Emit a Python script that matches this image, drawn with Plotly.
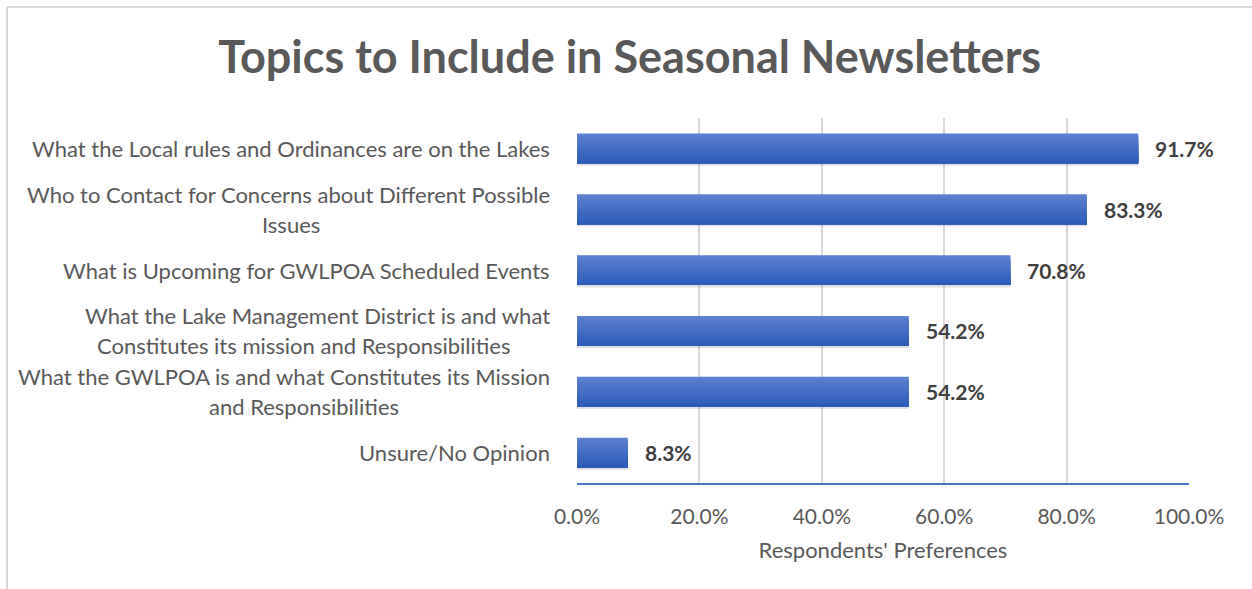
import plotly.graph_objects as go

categories = [
    ["What the Local rules and Ordinances are on the Lakes"],
    ["Who to Contact for Concerns about Different Possible", "Issues"],
    ["What is Upcoming for GWLPOA Scheduled Events"],
    ["What the Lake Management District is and what", "Constitutes its mission and Responsibilities"],
    ["What the GWLPOA is and what Constitutes its Mission", "and Responsibilities"],
    ["Unsure/No Opinion"],
]
values = [0.917, 0.833, 0.708, 0.542, 0.542, 0.083]
value_labels = ["91.7%", "83.3%", "70.8%", "54.2%", "54.2%", "8.3%"]
tick_vals = [0, 0.2, 0.4, 0.6, 0.8, 1.0]
tick_text = ["0.0%", "20.0%", "40.0%", "60.0%", "80.0%", "100.0%"]

# horizontal centre (px from plot-area left edge) of second label lines
second_line_centre = [None, -286, None, -273, -273, None]

cat_keys = [" ".join(c) for c in categories]

FONT = "Lato"
GRAY = "#595959"

fig = go.Figure()
# soft shadow
fig.add_trace(go.Bar(
    x=values, y=cat_keys, orientation="h", width=0.52, offset=-0.235,
    marker=dict(color="rgba(0,0,0,0.12)", line=dict(width=0)),
    hoverinfo="skip", showlegend=False,
))
# vertical gradient: stacked-over layers, each reaching to the bar bottom
top_rgb = (92, 128, 208)
bot_rgb = (45, 91, 184)
n_slices = 14
bar_w = 0.49
step = bar_w / n_slices
for i in range(n_slices):
    t = i / (n_slices - 1)
    col = tuple(round(a + (b - a) * t) for a, b in zip(top_rgb, bot_rgb))
    fig.add_trace(go.Bar(
        x=values, y=cat_keys, orientation="h",
        width=bar_w - i * step, offset=-bar_w / 2 + i * step,
        marker=dict(color="rgb(%d,%d,%d)" % col, line=dict(width=0)),
        hoverinfo="skip" if i else "x+y", showlegend=False,
    ))

annotations = []
lbl_font = dict(family=FONT, size=22, color=GRAY)
for key, lines, c2 in zip(cat_keys, categories, second_line_centre):
    if len(lines) == 1:
        annotations.append(dict(x=0, xref="paper", y=key, yref="y", text=lines[0],
                                xanchor="right", yanchor="middle", xshift=-25,
                                showarrow=False, font=lbl_font))
    else:
        annotations.append(dict(x=0, xref="paper", y=key, yref="y", text=lines[0],
                                xanchor="right", yanchor="middle", xshift=-25, yshift=15,
                                showarrow=False, font=lbl_font))
        annotations.append(dict(x=0, xref="paper", y=key, yref="y", text=lines[1],
                                xanchor="center", yanchor="middle", xshift=c2, yshift=-15,
                                showarrow=False, font=lbl_font))

for key, v, t in zip(cat_keys, values, value_labels):
    annotations.append(dict(x=v, xref="x", y=key, yref="y", text="<b>" + t + "</b>",
                            xanchor="left", yanchor="middle", xshift=15,
                            showarrow=False, font=dict(family=FONT, size=21, color="#404040")))

fig.update_layout(
    width=1252, height=589,
    margin=dict(l=577, r=63, t=118, b=106),
    paper_bgcolor="white", plot_bgcolor="white",
    barmode="overlay",
    title=dict(text="<b>Topics to Include in Seasonal Newsletters</b>",
               x=0.503, xanchor="center", y=1 - 57 / 589, yanchor="middle", yref="container",
               font=dict(family=FONT, size=45, color=GRAY)),
    xaxis=dict(range=[0, 1], tickvals=tick_vals, ticktext=tick_text,
               showgrid=True, gridcolor="#d9d9d9", gridwidth=1.5,
               zeroline=False, showline=True, linecolor="#4a76c8", linewidth=2,
               ticks="", ticklabelstandoff=14,
               tickfont=dict(family=FONT, size=21, color=GRAY),
               title=dict(text="Respondents' Preferences", standoff=15,
                          font=dict(family=FONT, size=22, color=GRAY))),
    yaxis=dict(categoryorder="array", categoryarray=cat_keys, autorange="reversed",
               showticklabels=False, showgrid=False, zeroline=False, showline=False, ticks=""),
    annotations=annotations,
    shapes=[
        dict(type="line", xref="paper", yref="paper",
             x0=(7 - 577) / 612, x1=(1260 - 577) / 612,
             y0=(483 - 7) / 365, y1=(483 - 7) / 365,
             line=dict(color="#d9d9d9", width=2)),
        dict(type="line", xref="paper", yref="paper",
             x0=(7 - 577) / 612, x1=(7 - 577) / 612,
             y0=(483 - 7) / 365, y1=(483 - 600) / 365,
             line=dict(color="#d9d9d9", width=2)),
    ],
)

fig.write_html("out.html", config={"displayModeBar": False},
               post_script="document.body.style.margin='0';")
